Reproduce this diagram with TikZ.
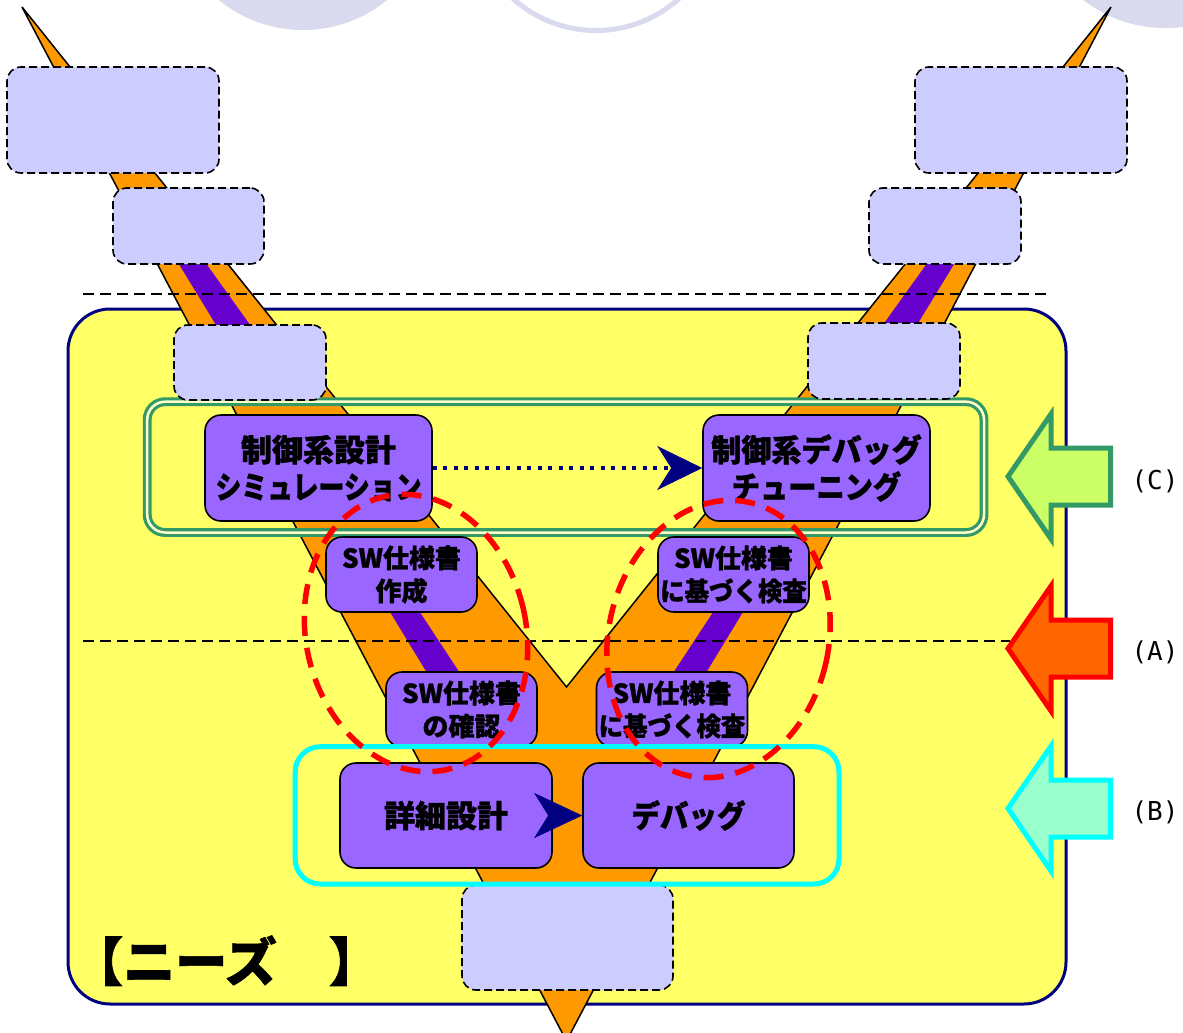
\documentclass[tikz,border=0pt]{standalone}
\usepackage{fontspec}
\usepackage{graphicx}
\newfontfamily\jp{Noto Sans CJK JP}[BoldFeatures={FakeBold=1.2}]
\newfontfamily\monof{DejaVu Sans Mono}
\usetikzlibrary{arrows.meta}
\definecolor{vorange}{HTML}{FF9900}
\definecolor{vstripe}{HTML}{6600CC}
\definecolor{lav}{HTML}{CCCCFF}
\definecolor{purp}{HTML}{9966FF}
\definecolor{panelc}{HTML}{FFFF66}
\definecolor{navyc}{HTML}{000080}
\definecolor{gC}{HTML}{339966}
\definecolor{gCfill}{HTML}{CCFF66}
\definecolor{gap}{HTML}{FFFFCC}
\definecolor{aAfill}{HTML}{FF6600}
\definecolor{bfill}{HTML}{99FFCC}
\definecolor{cyanc}{HTML}{00FFFF}
\definecolor{redc}{HTML}{FF0000}
\definecolor{circc}{HTML}{DADAEE}
\newcommand{\hs}[2]{\scalebox{#1}[1]{#2}}
\begin{document}
\begin{tikzpicture}[x=1pt,y=-1pt,
  lavbox/.style={draw=black, fill=lav, line width=1.6pt, dash pattern=on 8pt off 4pt, rounded corners=14pt, inner sep=0pt},
  pbox/.style={draw=black, fill=purp, line width=1.6pt, rounded corners=16pt, inner sep=0pt, align=center},
  bigtxt/.style={font=\jp\bfseries\fontsize{31pt}{37pt}\selectfont},
  swtxt/.style={font=\jp\bfseries\fontsize{26pt}{33pt}\selectfont},
  sepline/.style={draw=black, line width=2.2pt, dash pattern=on 11pt off 6pt},
  reddash/.style={draw=redc, line width=5.5pt, dash pattern=on 20pt off 12pt},
  blockarrow/.style={line width=5pt, line join=miter},
  lbl/.style={font=\monof\fontsize{26pt}{30pt}\selectfont, inner sep=0pt}
]
\useasboundingbox (0,0) rectangle (1183,1033);
\fill[white] (0,0) rectangle (1183,1033);
% top decorative circles
\fill[circc] (303,-103) circle[radius=133pt];
\draw[circc, line width=5pt] (596,-93.5) circle[radius=124pt];
\fill[circc] (1165,-105) circle[radius=133pt];
% panel
\draw[navyc, line width=3pt, fill=panelc, rounded corners=42pt] (68,309) rectangle (1066,1004);
% V shape
\draw[fill=vorange, line width=1.5pt] (22,7) -- (566.5,1041) -- (1111,7) -- (566.5,687) -- cycle;
% stripes
\fill[vstripe] (177.6,262) -- (205,262) -- (251.6,327) -- (217.3,327) -- cycle;
\fill[vstripe] (955.4,262) -- (928,262) -- (881.4,327) -- (915.7,327) -- cycle;
\fill[vstripe] (388.8,610) -- (418.5,610) -- (461.2,675) -- (428.3,675) -- cycle;
\fill[vstripe] (744.2,610) -- (714.5,610) -- (671.8,675) -- (704.7,675) -- cycle;
% dashed separators
\coordinate (s1a) at (83,294); \coordinate (s1b) at (1047,294);
\coordinate (s2a) at (83,641); \coordinate (s2b) at (1010,641);
\draw[sepline] (s1a) -- (s1b);
\draw[sepline] (s2a) -- (s2b);
% green double frame (C)
\draw[gC, line width=3.2pt, double=gap, double distance=2.5pt, rounded corners=18pt] (147.2,401.7) rectangle (984,532.5);
% lavender boxes
\node[lavbox, minimum width=212pt, minimum height=106pt] (l1) at (113,120) {};
\node[lavbox, minimum width=151pt, minimum height=76pt] (l2) at (188.5,226) {};
\node[lavbox, minimum width=152pt, minimum height=75pt] (l3) at (250,362.5) {};
\node[lavbox, minimum width=212pt, minimum height=106pt] (r1) at (1021,120) {};
\node[lavbox, minimum width=152pt, minimum height=76pt] (r2) at (945,226) {};
\node[lavbox, minimum width=152pt, minimum height=76pt] (r3) at (884,361) {};
\node[lavbox, minimum width=211pt, minimum height=105pt] (bb) at (567.5,937.5) {};
% purple nodes
\node[pbox, bigtxt, minimum width=227pt, minimum height=106pt] (n1) at (318.5,468) {制御系設計\\\hs{0.835}{シミュレーション}};
\node[pbox, bigtxt, minimum width=227pt, minimum height=106pt] (n2) at (816.5,468) {\hs{0.97}{制御系デバッグ}\\\hs{0.91}{チューニング}};
\node[pbox, swtxt, minimum width=151pt, minimum height=75pt] (s1) at (401.5,574.5) {SW仕様書\\作成};
\node[pbox, swtxt, minimum width=151pt, minimum height=75pt] (s2) at (733.5,574.5) {SW仕様書\\\hs{0.94}{に基づく検査}};
\node[pbox, swtxt, minimum width=151pt, minimum height=75pt] (s3) at (461.5,709.5) {SW仕様書\\の確認};
\node[pbox, swtxt, minimum width=151pt, minimum height=75pt] (s4) at (672,709.5) {SW仕様書\\\hs{0.94}{に基づく検査}};
\node[pbox, bigtxt, minimum width=212pt, minimum height=105pt] (d1) at (446,815.5) {詳細設計};
\node[pbox, bigtxt, minimum width=211pt, minimum height=105pt] (d2) at (688.5,815.5) {\hs{0.92}{デバッグ}};
% connectors
\draw[navyc, line width=4pt, dash pattern=on 4pt off 6.5pt, -{Stealth[length=45pt,width=44pt,inset=14pt,line width=0.5pt]}] (n1.east) -- (n2.west);
\draw[navyc, line width=0.2pt, -{Stealth[length=48pt,width=45pt,inset=14pt,line width=0.5pt]}] (d1.east) -- (d2.west);
% cyan frame (B)
\draw[cyanc, line width=5pt, rounded corners=25pt] (295.2,746.7) rectangle (839,884);
% red dashed ellipses
\draw[reddash, rotate around={13:(416,633)}] (416,633) ellipse[x radius=110pt, y radius=140pt];
\draw[reddash, rotate around={-13:(718.5,639)}] (718.5,639) ellipse[x radius=110pt, y radius=140pt];
% right block arrows
\draw[blockarrow, draw=gC, fill=gCfill] (1008,476.5) -- (1051,414) -- (1051,448) -- (1110.5,448) -- (1110.5,505) -- (1051,505) -- (1051,539) -- cycle;
\draw[blockarrow, draw=redc, fill=aAfill] (1008,648.5) -- (1051,586) -- (1051,620) -- (1110.5,620) -- (1110.5,677) -- (1051,677) -- (1051,711) -- cycle;
\draw[blockarrow, draw=cyanc, fill=bfill] (1008,808.5) -- (1051,746) -- (1051,780) -- (1110.5,780) -- (1110.5,837) -- (1051,837) -- (1051,871) -- cycle;
\node[lbl] (lc) at (1155,481) {(C)};
\node[lbl] (la) at (1155,652) {(A)};
\node[lbl] (lb) at (1155,812) {(B)};
% needs label
\node[font=\jp\bfseries\fontsize{52pt}{60pt}\selectfont, inner sep=0pt, anchor=base] (needs) at (226,981) {【ニーズ　】};
\end{tikzpicture}
\end{document}
